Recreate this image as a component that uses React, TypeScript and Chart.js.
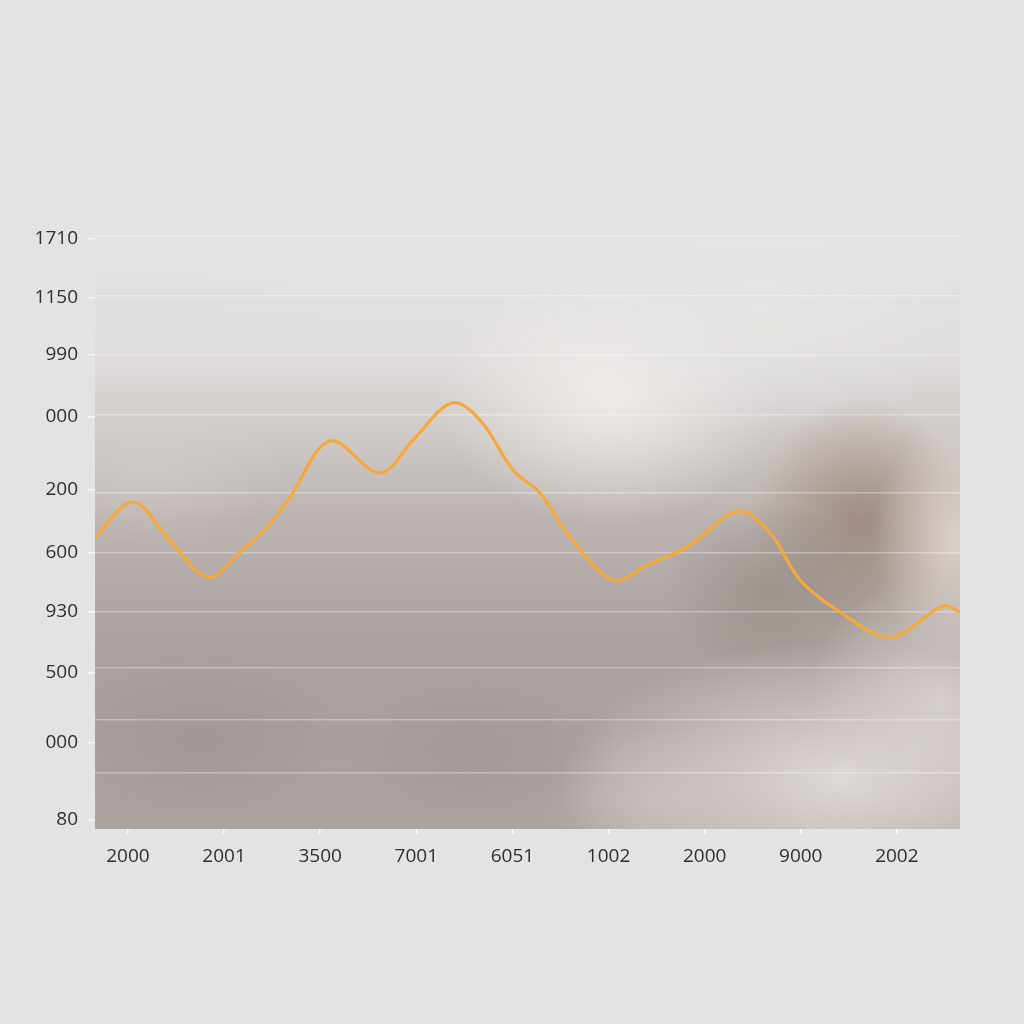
import React, { useEffect, useRef } from "react";
import { Chart, registerables } from "chart.js";

Chart.register(...registerables);

// Category tick labels along the x axis (positions 0..8)
const xLabels = ["2000", "2001", "3500", "7001", "6051", "1002", "2000", "9000", "2002"];

// y-axis labels (as printed) and the axis values where they sit
const yLabels = ["1710", "1150", "990", "000", "200", "600", "930", "500", "000", "80"];
const yLabelValues = [590, 531, 474, 412, 339, 276, 217, 156, 86, 9];

// horizontal grid lines (axis values)
const gridValues = [593, 533, 474, 414, 336, 276, 217, 161, 109, 56];

// the orange series (x in category units, y in axis units)
const seriesX = [-0.343, 0.052, 0.406, 0.832, 1.165, 1.446, 1.686, 2.102, 2.622, 2.966, 3.371, 3.663, 4.006, 4.287, 4.568, 5.047, 5.401, 5.848, 6.348, 6.681, 6.993, 7.378, 7.929, 8.481, 8.657];
const seriesY = [292, 327, 292, 252, 277, 302, 332, 388, 356, 389, 426, 409, 359, 336, 296, 249, 264, 284, 318, 296, 249, 219, 192, 223, 217];

const X_MIN = -0.343;
const X_MAX = 8.657;
const Y_MIN = 0;
const Y_MAX = 593;

const backdrop = {
  id: "backdrop",
  beforeDraw(chart: any) {
    const { ctx, chartArea: a } = chart;
    if (!a) return;
    ctx.save();
    ctx.beginPath();
    ctx.rect(a.left, a.top, a.right - a.left, a.bottom - a.top);
    ctx.clip();
    const h = a.bottom - a.top;
    const lg = ctx.createLinearGradient(0, a.top, 0, a.bottom);
    lg.addColorStop(0, "#e3e3e3");
    lg.addColorStop(0.2, "#dfdddc");
    lg.addColorStop(0.33, "#d0cbc8");
    lg.addColorStop(0.48, "#bab3af");
    lg.addColorStop(0.7, "#a9a19d");
    lg.addColorStop(1, "#aba39f");
    ctx.fillStyle = lg;
    ctx.fillRect(a.left, a.top, a.right - a.left, h);
    const blob = (x: number, y: number, r: number, c: string, sy = 1) => {
      ctx.save();
      ctx.translate(x, y);
      ctx.scale(1, sy);
      const g = ctx.createRadialGradient(0, 0, 0, 0, 0, r);
      g.addColorStop(0, c);
      g.addColorStop(1, c.replace(/[\d.]+\)$/, "0)"));
      ctx.fillStyle = g;
      ctx.fillRect(-r, -r, 2 * r, 2 * r);
      ctx.restore();
    };
    blob(610, 390, 170, "rgba(240,236,232,0.95)", 0.8);
    blob(760, 300, 220, "rgba(228,228,228,0.9)", 0.6);
    blob(420, 250, 250, "rgba(228,226,224,0.7)", 0.4);
    blob(860, 520, 110, "rgba(152,128,116,0.75)", 1.1);
    blob(770, 590, 110, "rgba(140,130,126,0.55)", 0.8);
    blob(955, 540, 80, "rgba(226,214,208,0.85)", 1.5);
    blob(840, 780, 280, "rgba(226,220,216,0.95)", 0.5);
    blob(940, 700, 130, "rgba(222,216,212,0.75)", 1);
    blob(660, 800, 120, "rgba(210,204,200,0.5)", 0.6);
    blob(200, 740, 170, "rgba(150,142,138,0.45)", 0.5);
    blob(470, 750, 150, "rgba(150,142,138,0.4)", 0.5);
    blob(150, 470, 130, "rgba(214,208,205,0.55)", 0.6);
    ctx.restore();
  },
};

export default function App() {
  const ref = useRef<HTMLCanvasElement | null>(null);
  useEffect(() => {
    if (!ref.current) return;
    const chart = new Chart(ref.current, {
      type: "line",
      data: {
        datasets: [
          {
            data: seriesX.map((x, i) => ({ x, y: seriesY[i] })),
            borderColor: "#f6a93b",
            borderWidth: 3.2,
            pointRadius: 0,
            tension: 0.35,
            borderCapStyle: "round",
            borderJoinStyle: "round",
            fill: false,
          },
        ],
      },
      options: {
        responsive: false,
        animation: false,
        layout: { padding: { left: 0, top: 236, right: 64, bottom: 0 } },
        plugins: { legend: { display: false }, tooltip: { enabled: false } },
        scales: {
          x: {
            type: "linear",
            min: X_MIN,
            max: X_MAX,
            afterBuildTicks: (s: any) => {
              s.ticks = xLabels.map((_, i) => ({ value: i }));
            },
            afterFit: (s: any) => {
              s.height = 195;
            },
            border: { display: false },
            grid: {
              drawOnChartArea: false,
              tickLength: 5,
              tickColor: "rgba(255,255,255,0.85)",
              lineWidth: 1.5,
            },
            ticks: {
              autoSkip: false,
              maxRotation: 0,
              padding: 11,
              color: "#2f2f2f",
              font: { family: "'Open Sans'", size: 19 },
              callback: (_v: any, i: number) => xLabels[i],
            },
          },
          y: {
            type: "linear",
            position: "left",
            min: Y_MIN,
            max: Y_MAX,
            afterBuildTicks: (s: any) => {
              s.ticks = yLabelValues.map((v) => ({ value: v }));
            },
            afterFit: (s: any) => {
              s.width = 95;
            },
            border: { display: false },
            grid: {
              drawOnChartArea: false,
              tickLength: 7,
              tickColor: "rgba(255,255,255,0.7)",
              lineWidth: 1.5,
            },
            ticks: {
              autoSkip: false,
              padding: 10,
              color: "#2f2f2f",
              font: { family: "'Open Sans'", size: 19 },
              callback: (_v: any, i: number) => yLabels[i],
            },
          },
          yg: {
            type: "linear",
            position: "right",
            min: Y_MIN,
            max: Y_MAX,
            afterBuildTicks: (s: any) => {
              s.ticks = gridValues.map((v) => ({ value: v }));
            },
            afterFit: (s: any) => {
              s.width = 0;
            },
            border: { display: false },
            grid: {
              drawTicks: false,
              color: "rgba(255,255,255,0.32)",
              lineWidth: 1.5,
            },
            ticks: { display: false },
          },
        },
      },
      plugins: [backdrop],
    } as any);
    return () => chart.destroy();
  }, []);
  return (
    <div
      style={{
        position: "fixed",
        left: 0,
        top: 0,
        width: 1024,
        height: 1024,
        background: "#e3e3e3",
      }}
    >
      <canvas ref={ref} width={1024} height={1024} />
    </div>
  );
}
